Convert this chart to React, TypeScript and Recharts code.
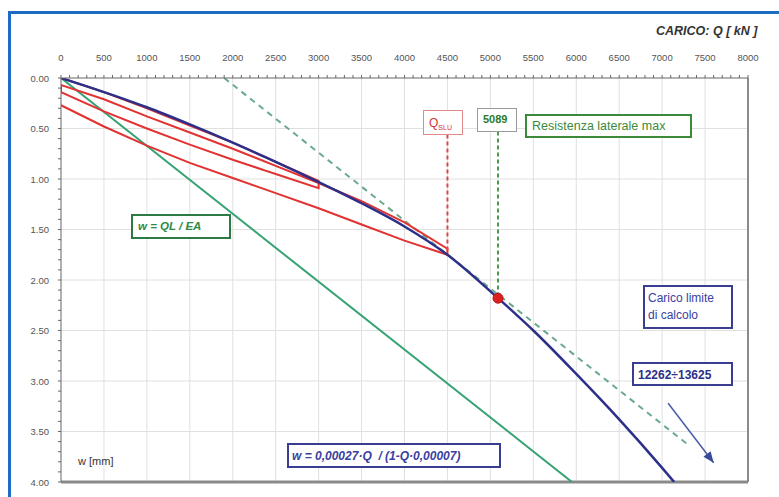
import React from 'react';
import { LineChart, Line, XAxis, YAxis, ReferenceLine, ReferenceDot } from 'recharts';

// axis ticks
const qMajor = [0, 500, 1000, 1500, 2000, 2500, 3000, 3500, 4000, 4500, 5000, 5500, 6000, 6500, 7000, 7500, 8000];
const qMinor = Array.from({ length: 81 }, (_, i) => i * 100);
const wMajor = [0, 0.5, 1, 1.5, 2, 2.5, 3, 3.5, 4];
const wMinor = Array.from({ length: 41 }, (_, i) => Math.round(i * 10) / 100);

// curva di calcolo w = 0,00027·Q / (1-Q·0,00007)
const blueCurve = [
  { q: 0, w: 0 }, { q: 500, w: 0.14 }, { q: 1000, w: 0.29 }, { q: 1500, w: 0.46 },
  { q: 2000, w: 0.64 }, { q: 2500, w: 0.83 }, { q: 3000, w: 1.03 }, { q: 3500, w: 1.24 },
  { q: 4000, w: 1.47 }, { q: 4500, w: 1.75 }, { q: 5089, w: 2.18 }, { q: 5500, w: 2.5 },
  { q: 6000, w: 2.93 }, { q: 6500, w: 3.38 }, { q: 7000, w: 3.86 }, { q: 7140, w: 4.0 },
];

// prova di carico: cicli di carico / scarico
const redTest = [
  { q: 0, w: 0 }, { q: 500, w: 0.14 }, { q: 1000, w: 0.3 }, { q: 1500, w: 0.47 },
  { q: 2000, w: 0.64 }, { q: 2500, w: 0.83 }, { q: 3000, w: 1.02 }, { q: 3000, w: 1.09 },
  { q: 2500, w: 0.95 }, { q: 2000, w: 0.81 }, { q: 1500, w: 0.66 }, { q: 1000, w: 0.5 },
  { q: 500, w: 0.33 }, { q: 0, w: 0.14 }, { q: 0, w: 0.07 }, { q: 500, w: 0.21 },
  { q: 1000, w: 0.38 }, { q: 1500, w: 0.54 }, { q: 2000, w: 0.7 }, { q: 2500, w: 0.87 },
  { q: 3000, w: 1.04 }, { q: 3500, w: 1.22 }, { q: 4000, w: 1.43 }, { q: 4500, w: 1.69 },
  { q: 4500, w: 1.75 }, { q: 4000, w: 1.61 }, { q: 3500, w: 1.45 }, { q: 3000, w: 1.29 },
  { q: 2500, w: 1.14 }, { q: 2000, w: 0.99 }, { q: 1500, w: 0.84 }, { q: 1000, w: 0.67 },
  { q: 500, w: 0.48 }, { q: 0, w: 0.27 },
];

// w = QL / EA
const elastic = [{ q: 0, w: 0 }, { q: 5950, w: 4.0 }];
// parallela traslata della resistenza laterale
const tangent = [{ q: 1900, w: 0 }, { q: 7300, w: 3.63 }];
const qsluLine = [{ q: 4500, w: 0.56 }, { q: 4500, w: 1.73 }];
const latMaxLine = [{ q: 5089, w: 0.53 }, { q: 5089, w: 2.18 }];
const arrow = [{ q: 7070, w: 3.22 }, { q: 7600, w: 3.81 }];

const FONT = '"Liberation Sans", Arial, sans-serif';

const TopTick = ({ x, y, payload }: any) =>
  payload.value % 500 === 0 ? (
    <text x={x} y={y} textAnchor="middle" fontSize={9.5} fill="#555" fontFamily={FONT}>
      {payload.value}
    </text>
  ) : <g />;

const LeftTick = ({ x, y, payload }: any) =>
  Math.round(payload.value * 100) % 50 === 0 ? (
    <text x={x} y={y} dy={3.5} textAnchor="end" fontSize={9.5} fill="#555" fontFamily={FONT}>
      {payload.value.toFixed(2)}
    </text>
  ) : <g />;

const ArrowHead = (props: any) => {
  if (props.index !== arrow.length - 1) return <g key={props.index} />;
  return (
    <polygon
      key={props.index}
      points="0,0 -11,-4.5 -11,4.5"
      fill="#3a4a9a"
      transform={`translate(${props.cx},${props.cy}) rotate(53)`}
    />
  );
};

const box = (extra: React.CSSProperties): React.CSSProperties => ({
  position: 'absolute',
  background: '#fff',
  boxSizing: 'border-box',
  fontFamily: FONT,
  whiteSpace: 'nowrap',
  ...extra,
});

export default function App() {
  return (
    <div style={{ position: 'fixed', left: 8, top: 8, width: 771, height: 489, overflow: 'hidden', background: '#fff' }}>
      <div style={{ position: 'absolute', left: 0, top: 3, width: 900, height: 600, border: '3px solid #1b6cc2' }} />
      <div style={{ position: 'absolute', left: 0, top: 0 }}>
        <LineChart width={771} height={489} margin={{ top: 0, right: 31, bottom: 15, left: 0 }}>
          <XAxis
            type="number"
            dataKey="q"
            orientation="top"
            domain={[0, 8000]}
            ticks={qMinor}
            interval={0}
            height={70}
            tick={TopTick}
            tickSize={3}
            tickMargin={14}
            stroke="#666"
            allowDataOverflow
          />
          <YAxis
            type="number"
            dataKey="w"
            reversed
            domain={[0, 4]}
            ticks={wMinor}
            interval={0}
            width={53}
            tick={LeftTick}
            tickSize={3}
            tickMargin={9}
            stroke="#666"
            allowDataOverflow
          />
          {qMajor.slice(1, -1).map((v) => (
            <ReferenceLine key={'gx' + v} x={v} stroke="#e0e0e0" strokeWidth={1} />
          ))}
          {wMajor.slice(1, -1).map((v) => (
            <ReferenceLine key={'gy' + v} y={v} stroke="#e0e0e0" strokeWidth={1} />
          ))}
          <ReferenceLine x={8000} stroke="#8a8a8a" strokeWidth={2} />
          <ReferenceLine y={4} stroke="#8a8a8a" strokeWidth={3} />

          <Line data={elastic} dataKey="w" type="linear" stroke="#35a273" strokeWidth={2} dot={false} isAnimationActive={false} />
          <Line data={tangent} dataKey="w" type="linear" stroke="#6aaa8c" strokeWidth={2} strokeDasharray="6 5" dot={false} isAnimationActive={false} />
          <Line data={redTest} dataKey="w" type="linear" stroke="#e23232" strokeWidth={2} dot={false} isAnimationActive={false} />
          <Line data={blueCurve} dataKey="w" type="monotone" stroke="#2d3088" strokeWidth={2.5} dot={false} isAnimationActive={false} />
          <Line data={qsluLine} dataKey="w" type="linear" stroke="#d84a4a" strokeWidth={2} strokeDasharray="4 3" dot={false} isAnimationActive={false} />
          <Line data={latMaxLine} dataKey="w" type="linear" stroke="#4a9a4a" strokeWidth={2} strokeDasharray="4 3" dot={false} isAnimationActive={false} />
          <Line data={arrow} dataKey="w" type="linear" stroke="#4a5aa8" strokeWidth={1.5} dot={ArrowHead} isAnimationActive={false} />
          <ReferenceDot x={5089} y={2.18} r={5} fill="#e02020" stroke="#b01515" />
        </LineChart>
      </div>

      <div style={{ position: 'absolute', left: 648, top: 16, fontFamily: FONT, fontSize: 12.5, fontWeight: 'bold', fontStyle: 'italic', color: '#333', whiteSpace: 'nowrap' }}>
        CARICO: Q [ kN ]
      </div>

      <div style={box({ left: 415, top: 102, width: 40, height: 25, border: '1.5px solid #e08a8a', color: '#d83030', fontSize: 12, paddingLeft: 5, paddingTop: 5 })}>
        Q<sub style={{ fontSize: 7 }}>SLU</sub>
      </div>
      <div style={box({ left: 469, top: 100, width: 40, height: 24, border: '1.5px solid #9a9a9a', color: '#2a7a2a', fontSize: 11, fontWeight: 'bold', paddingLeft: 5, paddingTop: 4 })}>
        5089
      </div>
      <div style={box({ left: 517, top: 106, width: 167, height: 24, border: '2px solid #3a8a3a', color: '#3a8a3a', fontSize: 12.5, paddingLeft: 5, paddingTop: 3 })}>
        Resistenza laterale max
      </div>
      <div style={box({ left: 123, top: 206, width: 100, height: 25, border: '2px solid #2d7a45', color: '#2d8a45', fontSize: 11.5, fontWeight: 'bold', fontStyle: 'italic', paddingLeft: 5, paddingTop: 4 })}>
        w = QL / EA
      </div>
      <div style={box({ left: 635, top: 277, width: 90, height: 44, border: '2px solid #3a3e90', color: '#3a40a0', fontSize: 12, paddingLeft: 3, paddingTop: 3, lineHeight: '17px' })}>
        Carico limite<br />di calcolo
      </div>
      <div style={box({ left: 624, top: 354, width: 101, height: 24, border: '2px solid #3a3e90', color: '#2d3088', fontSize: 12, fontWeight: 'bold', paddingLeft: 4, paddingTop: 4 })}>
        12262÷13625
      </div>
      <div style={box({ left: 279, top: 435, width: 214, height: 25, border: '2px solid #3a3e90', color: '#3a40a0', fontSize: 12, fontWeight: 'bold', fontStyle: 'italic', paddingLeft: 3, paddingTop: 4 })}>
        w = 0,00027·Q&nbsp; / (1-Q·0,00007)
      </div>
      <div style={{ position: 'absolute', left: 70, top: 447, fontFamily: FONT, fontSize: 11, color: '#333' }}>
        w [mm]
      </div>
    </div>
  );
}
